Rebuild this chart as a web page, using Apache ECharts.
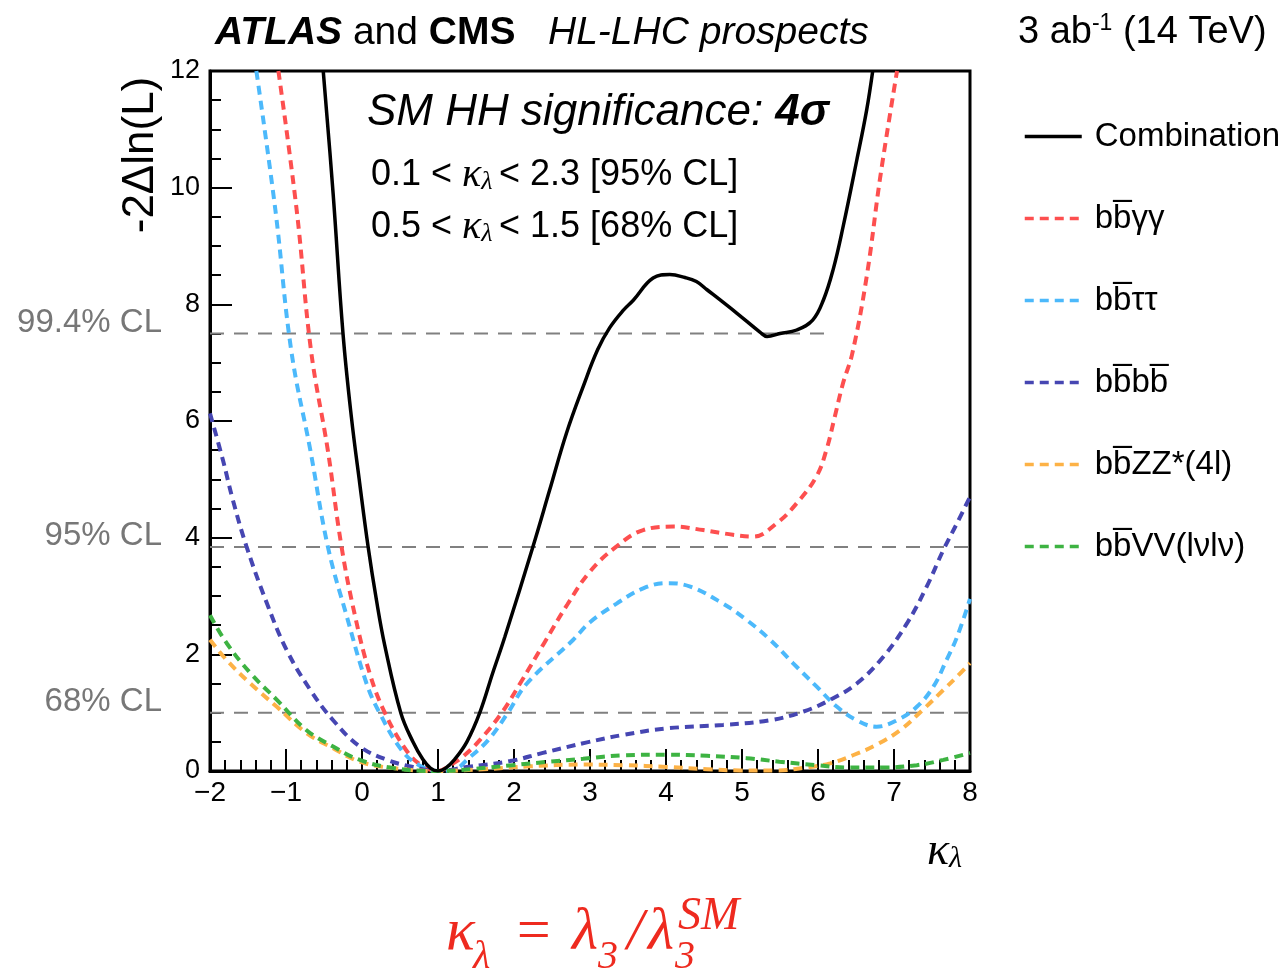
<!DOCTYPE html>
<html>
<head>
<meta charset="utf-8">
<script src="https://cdn.jsdelivr.net/npm/echarts@6/dist/echarts.min.js"></script>
<style>
  html, body { margin: 0; background: #fff; }
  #main { width: 1282px; height: 972px; }
</style>
</head>
<body>
<div id="main"></div>
<script>
const SANS = '"Liberation Sans", Arial, Helvetica, sans-serif';
const SERIF = '"Liberation Serif", "Times New Roman", serif';

// kappa_lambda, -2 Delta ln(L)
const combination = [[-0.51,12],[-0.38,9.9],[-0.25,7.5],[-0.14,6.07],[-0.03,4.93],[0.08,3.85],[0.19,2.93],[0.3,2.15],[0.51,1.0],[0.67,0.5],[0.8,0.2],[0.9,0.05],[1,0],[1.1,0.05],[1.22,0.2],[1.38,0.5],[1.55,1.0],[1.72,1.68],[1.88,2.3],[2.25,3.85],[2.47,4.82],[2.69,5.79],[2.91,6.59],[3.1,7.22],[3.26,7.6],[3.44,7.9],[3.57,8.07],[3.83,8.45],[4.05,8.51],[4.25,8.46],[4.4,8.39],[4.54,8.25],[4.93,7.85],[5.24,7.52],[5.33,7.45],[5.5,7.5],[5.72,7.56],[5.93,7.73],[6.07,8.07],[6.2,8.6],[6.33,9.33],[6.51,10.47],[6.64,11.33],[6.72,12]];
const bbgg = [[-1.1,12],[-0.86,9.62],[-0.67,7.2],[-0.45,5.5],[-0.27,3.85],[-0.09,2.65],[0.1,1.68],[0.3,1.0],[0.58,0.36],[0.78,0.1],[1,0],[1.16,0.1],[1.33,0.25],[1.55,0.53],[1.84,1.0],[2.08,1.5],[2.4,2.2],[2.7,2.85],[3.0,3.42],[3.35,3.85],[3.7,4.13],[4.1,4.19],[4.49,4.13],[4.88,4.05],[5.15,4.02],[5.46,4.25],[5.72,4.59],[5.98,5.05],[6.11,5.5],[6.22,6.07],[6.33,6.65],[6.45,7.15],[6.64,8.47],[6.82,10.19],[7.04,12]];
const bbtt = [[-1.39,12],[-1.14,9.62],[-0.93,7.2],[-0.68,5.5],[-0.45,3.85],[-0.2,2.65],[0.06,1.5],[0.23,1.0],[0.52,0.36],[0.75,0.1],[1,0],[1.24,0.04],[1.38,0.19],[1.66,0.53],[1.92,1.0],[2.17,1.5],[2.78,2.25],[3.0,2.55],[3.35,2.87],[3.7,3.13],[4.01,3.22],[4.32,3.16],[4.75,2.87],[5.06,2.59],[5.37,2.25],[5.67,1.85],[5.98,1.45],[6.25,1.1],[6.51,0.87],[6.77,0.76],[7.04,0.87],[7.3,1.1],[7.52,1.45],[7.69,1.9],[7.83,2.3],[8,2.95]];
const bbbb = [[-2,6.13],[-1.83,5.33],[-1.7,4.65],[-1.52,3.85],[-1.25,2.87],[-0.99,2.07],[-0.68,1.39],[-0.38,0.87],[-0.03,0.42],[0.33,0.19],[0.67,0.07],[1,0],[1.38,0.07],[1.95,0.17],[2.38,0.31],[2.96,0.49],[3.44,0.62],[4.01,0.73],[4.75,0.79],[5.37,0.87],[5.81,1.02],[6.16,1.22],[6.51,1.5],[6.86,1.96],[7.17,2.53],[7.43,3.16],[7.65,3.79],[7.83,4.25],[8,4.7]];
const bbzz = [[-2,2.25],[-1.78,1.9],[-1.47,1.5],[-1.12,1.1],[-0.73,0.65],[-0.38,0.39],[-0.03,0.16],[0.41,0.05],[1,0],[1.6,0.03],[2.2,0.08],[2.91,0.11],[3.44,0.1],[4.01,0.07],[4.54,0.03],[4.97,0.01],[5.46,0.01],[5.85,0.06],[6.16,0.13],[6.46,0.27],[6.77,0.45],[7.08,0.7],[7.38,1.05],[7.65,1.39],[7.83,1.62],[8,1.85]];
const bbvv = [[-2,2.67],[-1.78,2.19],[-1.47,1.68],[-1.12,1.22],[-0.73,0.7],[-0.38,0.42],[-0.03,0.19],[0.41,0.05],[1,0],[1.5,0.04],[1.98,0.1],[2.47,0.16],[2.91,0.21],[3.44,0.27],[4.01,0.28],[4.54,0.26],[5.06,0.22],[5.49,0.16],[5.98,0.1],[6.42,0.06],[6.86,0.06],[7.3,0.1],[7.65,0.19],[8,0.31]];

const names = ['Combination', 'bb\u0305\u03b3\u03b3', 'bb\u0305\u03c4\u03c4', 'bb\u0305bb\u0305', 'bb\u0305ZZ*(4l)', 'bb\u0305VV(l\u03bdl\u03bd)'];
const colors = ['#000000', '#fd4f4f', '#4cb9fb', '#4646b2', '#fdb246', '#3db342'];

// confidence levels
const clLevels = [1.0, 3.84, 7.5];
const clEnds = [8, 8, 6.2];
const clLabels = ['68% CL', '95% CL', '99.4% CL'];

const chart = echarts.init(document.getElementById('main'));

function curve(i, data) {
  const solid = i === 0;
  return {
    name: names[i], type: 'line', data: data,
    symbol: 'none', smooth: 0.4,
    lineStyle: { color: colors[i], width: solid ? 3.5 : 4, type: solid ? 'solid' : [9, 6] },
    itemStyle: { color: colors[i] },
    z: solid ? 5 : 4
  };
}

const clSeries = clLevels.map((lv, i) => ({
  type: 'line', data: [[-2, lv], [clEnds[i], lv]],
  symbol: 'none', silent: true, z: 2,
  lineStyle: { color: '#808080', width: 2, type: [14, 10] }
}));

chart.setOption({
  animation: false,
  grid: { left: 210, right: 312, top: 71, bottom: 201, show: true, borderColor: '#000', borderWidth: 3 },
  legend: {
    orient: 'vertical', left: 1018, top: 115, itemGap: 49,
    itemWidth: 57, itemHeight: 14,
    data: names,
    itemStyle: { opacity: 0 },
    lineStyle: { width: 3.5 },
    textStyle: { fontFamily: SANS, fontSize: 33, color: '#000', lineHeight: 32, padding: [0, 0, 0, 8] }
  },
  xAxis: {
    type: 'value', min: -2, max: 8, interval: 1,
    axisLine: { show: true, onZero: false, lineStyle: { color: '#000', width: 3 } },
    axisTick: { show: true, inside: true, length: 22, lineStyle: { color: '#000', width: 2 } },
    minorTick: { show: true, splitNumber: 5, length: 11, lineStyle: { color: '#000', width: 2 } },
    splitLine: { show: false },
    axisLabel: { fontFamily: SANS, fontSize: 28, color: '#000', margin: 8,
      formatter: v => v < 0 ? '\u2212' + (-v) : String(v) }
  },
  yAxis: {
    type: 'value', min: 0, max: 12, interval: 2,
    axisLine: { show: true, onZero: false, lineStyle: { color: '#000', width: 3 } },
    axisTick: { show: true, inside: true, length: 22, lineStyle: { color: '#000', width: 2 } },
    minorTick: { show: true, splitNumber: 4, length: 11, lineStyle: { color: '#000', width: 2 } },
    splitLine: { show: false },
    axisLabel: { fontFamily: SANS, fontSize: 27, color: '#000', margin: 10 }
  },
  series: [
    ...clSeries,
    curve(1, bbgg), curve(2, bbtt), curve(3, bbbb), curve(4, bbzz), curve(5, bbvv),
    curve(0, combination)
  ]
});

const red = '#ee2a1f';
const elements = [
  { type: 'text', style: { x: 215, y: 33, verticalAlign: 'middle', fill: '#000',
      text: '{a|ATLAS}{n| and }{b|CMS}{i|   HL-LHC prospects}',
      rich: {
        a: { fontFamily: SANS, fontSize: 39, fontWeight: 'bold', fontStyle: 'italic' },
        n: { fontFamily: SANS, fontSize: 39 },
        b: { fontFamily: SANS, fontSize: 39, fontWeight: 'bold' },
        i: { fontFamily: SANS, fontSize: 39, fontStyle: 'italic' }
      } } },
  { type: 'text', style: { x: 1018, y: 33, verticalAlign: 'middle', fill: '#000',
      text: '{n|3 ab}{s|-1}{n| (14 TeV)}',
      rich: {
        n: { fontFamily: SANS, fontSize: 38, lineHeight: 42 },
        s: { fontFamily: SANS, fontSize: 23, lineHeight: 23, verticalAlign: 'top' }
      } } },
  { type: 'text', style: { x: 367, y: 113, verticalAlign: 'middle', fill: '#000',
      text: '{i|SM HH significance: }{b|4\u03c3}',
      rich: {
        i: { fontFamily: SANS, fontSize: 44, fontStyle: 'italic' },
        b: { fontFamily: SANS, fontSize: 44, fontStyle: 'italic', fontWeight: 'bold' }
      } } }
];
['0.1 < |< 2.3 [95% CL]', '0.5 < |< 1.5 [68% CL]'].forEach((t, i) => {
  const parts = t.split('|');
  elements.push({ type: 'text', style: { x: 371, y: 175 + i * 52, verticalAlign: 'middle', fill: '#000',
    text: '{n|' + parts[0] + '}{k|\u03ba}{l|\u03bb }{n|' + parts[1] + '}',
    rich: {
      n: { fontFamily: SANS, fontSize: 36, lineHeight: 40 },
      k: { fontFamily: SERIF, fontSize: 40, fontStyle: 'italic', lineHeight: 40 },
      l: { fontFamily: SERIF, fontSize: 26, fontStyle: 'italic', lineHeight: 32, verticalAlign: 'bottom' }
    } } });
});
// y axis title
elements.push({ type: 'text', x: 141, y: 155, rotation: Math.PI / 2,
  style: { x: 0, y: 0, text: '-2\u0394ln(L)', align: 'center', verticalAlign: 'middle',
    fontFamily: SANS, fontSize: 44, fill: '#000' } });
// x axis title
elements.push({ type: 'text', style: { x: 962, y: 852, align: 'right', verticalAlign: 'middle', fill: '#000',
  text: '{k|\u03ba}{l|\u03bb}',
  rich: {
    k: { fontFamily: SERIF, fontSize: 46, fontStyle: 'italic', lineHeight: 44 },
    l: { fontFamily: SERIF, fontSize: 30, fontStyle: 'italic', lineHeight: 34, verticalAlign: 'bottom' }
  } } });
// red formula
function ftext(x, y, text, size) {
  elements.push({ type: 'text', style: { x: x, y: y, text: text, verticalAlign: 'middle',
    fontFamily: SERIF, fontStyle: 'italic', fontSize: size, fill: red } });
}
ftext(446, 933, '\u03ba', 60);
ftext(473, 957, '\u03bb', 40);
ftext(513, 933, '=', 60);
ftext(572, 933, '\u03bb', 60);
ftext(598, 957, '3', 40);
ftext(627, 933, '/', 60);
ftext(648, 933, '\u03bb', 60);
ftext(675, 957, '3', 40);
ftext(678, 917, 'SM', 46);
// CL labels, placed from the y scale
clLevels.forEach((lv, i) => {
  const p = chart.convertToPixel({ gridIndex: 0 }, [-2, lv]);
  elements.push({ type: 'text', style: { x: 162, y: p[1] - 11, text: clLabels[i], align: 'right',
    verticalAlign: 'middle', fontFamily: SANS, fontSize: 33, fill: '#777' } });
});
chart.setOption({ graphic: { elements: elements } });
</script>
</body>
</html>
